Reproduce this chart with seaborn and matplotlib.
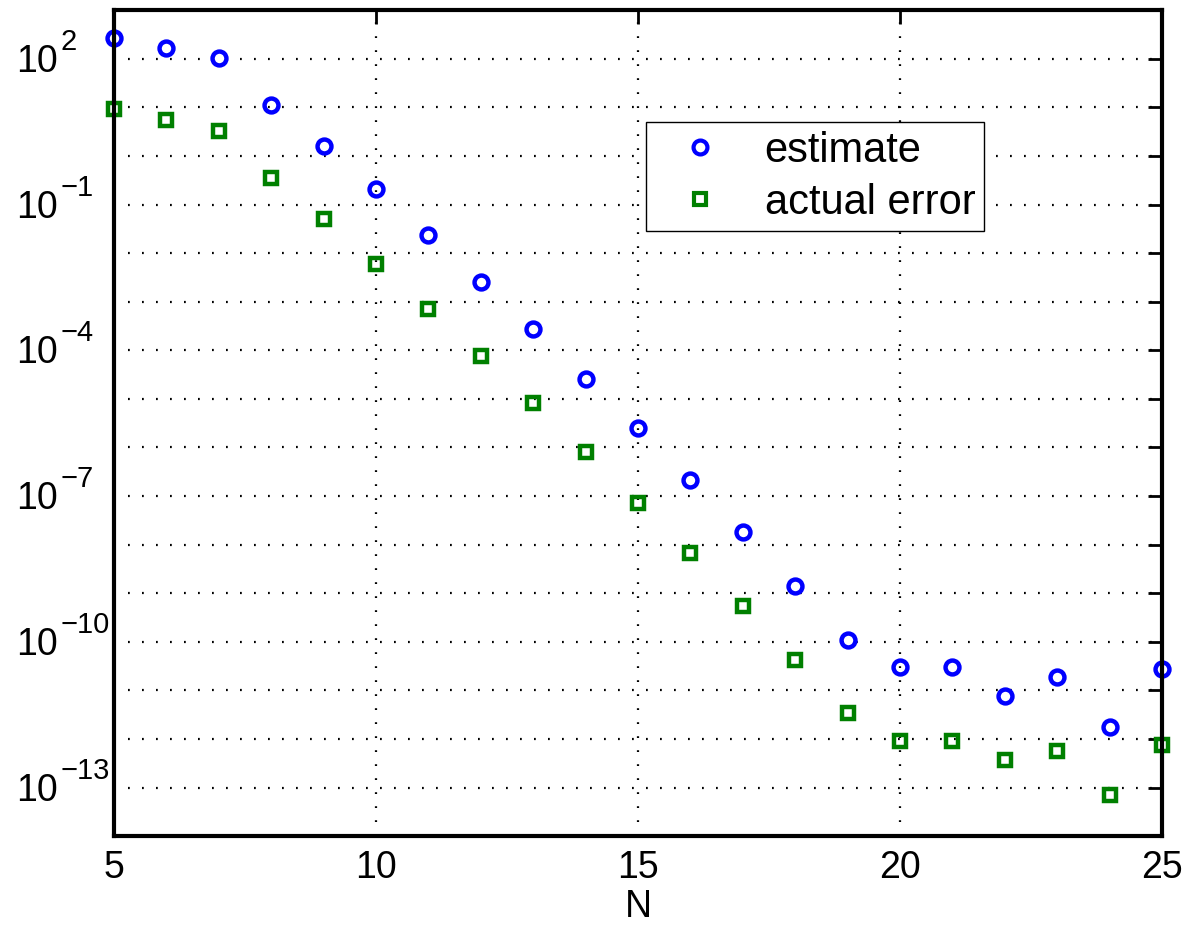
import numpy as np
import pandas as pd
import matplotlib
matplotlib.use('Agg')
import matplotlib.pyplot as plt
import matplotlib.ticker as mticker
import matplotlib.transforms as mtransforms
import seaborn as sns

# values
N = [5, 6, 7, 8, 9, 10, 11, 12, 13, 14, 15, 16, 17, 18, 19, 20, 21, 22, 23, 24, 25]
estimate = [270, 170, 105, 11, 1.57, 0.207, 0.0236, 2.6e-3, 2.8e-4, 2.6e-5,
            2.5e-6, 2.1e-7, 1.8e-8, 1.4e-9, 1.1e-10, 3.1e-11, 3.1e-11, 7.7e-12,
            1.9e-11, 1.8e-12, 2.7e-11]
actual_error = [9.4, 5.6, 3.3, 0.35, 0.05, 6e-3, 7.2e-4, 7.8e-5, 8.1e-6, 8e-7,
                7.2e-8, 6.6e-9, 5.4e-10, 4.2e-11, 3.4e-12, 9.2e-13, 9.2e-13,
                3.7e-13, 5.7e-13, 6.9e-14, 7.5e-13]
x_ticks = [5, 10, 15, 20, 25]
y_label_exps = [2, -1, -4, -7, -10, -13]

df = pd.DataFrame({'N': N, 'estimate': estimate, 'actual error': actual_error})

sns.set_style('white', {'axes.edgecolor': 'black', 'text.color': 'black',
                        'xtick.color': 'black', 'ytick.color': 'black',
                        'axes.labelcolor': 'black'})
plt.rcParams['font.family'] = ['Liberation Sans', 'DejaVu Sans']

fig = plt.figure(figsize=(11.87, 9.26), dpi=100)
ax = fig.add_axes([0.096, 0.097, 0.883, 0.892])

sns.lineplot(data=df, x='N', y='estimate', ax=ax, linestyle='none', marker='o',
             markersize=10, markerfacecolor='none', markeredgecolor='#0000ff',
             markeredgewidth=3.2, color='#0000ff', label='estimate', clip_on=False)
sns.lineplot(data=df, x='N', y='actual error', ax=ax, linestyle='none', marker='s',
             markersize=9, markerfacecolor='none', markeredgecolor='#008000',
             markeredgewidth=3.2, color='#008000', label='actual error', clip_on=False)

ax.set_yscale('log')
ax.set_xlim(5, 25)
ax.set_ylim(1e-14, 1e3)
ax.set_xticks(x_ticks)

# grid line and tick at every decade, label only every third one (drawn by hand below)
decades = [10.0 ** k for k in range(-13, 3)]
ax.yaxis.set_major_locator(mticker.FixedLocator(decades))
ax.yaxis.set_minor_locator(mticker.NullLocator())
ax.yaxis.set_major_formatter(mticker.NullFormatter())

ax.grid(True, which='major', linestyle=(0, (0.8, 5.5)), color='black', linewidth=1.6)
ax.tick_params(direction='in', length=10, width=2, labelsize=27,
               top=True, right=True, pad=10)
for sp in ax.spines.values():
    sp.set_linewidth(3)
    sp.set_color('black')

# MATLAB-style 10^k labels: "10" at fixed left position, exponent raised after it
ytr = ax.get_yaxis_transform()
x0 = (16 - 114) / 1048
for k in y_label_exps:
    base_tr = mtransforms.offset_copy(ytr, fig=fig, x=0, y=-13, units='dots')
    ax.text(x0, 10.0 ** k, '10', transform=base_tr, ha='left', va='baseline',
            fontsize=27, clip_on=False)
    exp_tr = mtransforms.offset_copy(ytr, fig=fig, x=45, y=9, units='dots')
    ax.text(x0, 10.0 ** k, str(k).replace('-', '\u2212'), transform=exp_tr,
            ha='left', va='baseline', fontsize=21, clip_on=False)

ax.set_xlabel('N', fontsize=27, labelpad=2)
ax.set_ylabel('')

leg = ax.legend(loc='upper left', bbox_to_anchor=(0.5076, 0.8644), fontsize=30,
                frameon=True, fancybox=False, edgecolor='black', framealpha=1,
                borderpad=0.2, handletextpad=0.45, handlelength=2.2,
                labelspacing=0.3, borderaxespad=0)
leg.get_frame().set_linewidth(1.0)
for h in leg.legend_handles:
    h.set_markeredgewidth(3)

fig.savefig('out.png', dpi=100)
